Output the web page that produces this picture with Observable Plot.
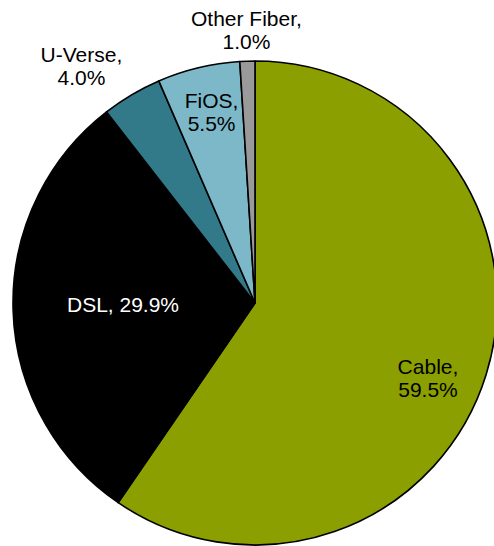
<!DOCTYPE html>
<html><head><meta charset="utf-8">
<script src="https://cdn.jsdelivr.net/npm/d3@7"></script>
<script src="https://cdn.jsdelivr.net/npm/@observablehq/plot@0.6"></script>
<style>body{margin:0;background:#fff;}</style>
</head><body><div id="chart"></div>
<script>
// ---- data ----
const categories = ["Cable", "DSL", "U-Verse", "FiOS", "Other Fiber"];
const shares = [59.5, 29.9, 4.0, 5.5, 1.0];

// ---- styling / layout (not data) ----
const sliceColors = ["#8C9F00", "#000000", "#32798A", "#7DB8C9", "#9A9A9A"];
const labelInk = ["#000000", "#ffffff", "#000000", "#000000", "#000000"];
// radial distance (in radius units), angular nudge (deg), break after comma
const labelLayout = [
  {r: 0.776, shift: 6.1, wrap: true},
  {r: 0.5475, shift: 1.3, wrap: false},
  {r: 1.217, shift: -5.6, wrap: true},
  {r: 0.812, shift: 0.6, wrap: true},
  {r: 1.130, shift: -0.1, wrap: true}
];

const rows = categories.map((c, i) => ({category: c, share: shares[i], i}));
const arcs = d3.pie().sort(null).value(d => d.share)(rows);

const labels = arcs.map(a => {
  const L = labelLayout[a.data.i];
  const th = (a.startAngle + a.endAngle) / 2 + L.shift * Math.PI / 180;
  const txt = a.data.category + "," + (L.wrap ? "\n" : " ") + a.data.share.toFixed(1) + "%";
  return {x: L.r * Math.sin(th), y: L.r * Math.cos(th), text: txt, ink: labelInk[a.data.i]};
});

function slices(index, scales) {
  const cx = scales.x(0), cy = scales.y(0);
  const r = scales.x(1) - scales.x(0);
  const arc = d3.arc().innerRadius(0).outerRadius(r);
  const g = d3.create("svg:g").attr("transform", `translate(${cx},${cy})`);
  g.selectAll("path").data(arcs).join("path")
    .attr("d", arc)
    .attr("fill", d => sliceColors[d.data.i])
    .attr("stroke", "#000")
    .attr("stroke-width", 1.6)
    .attr("stroke-linejoin", "round");
  return g.node();
}

const chart = Plot.plot({
  width: 494,
  height: 546,
  margin: 0,
  x: {domain: [-1, 1], range: [13, 497], axis: null},
  y: {domain: [-1, 1], range: [545, 61], axis: null},
  style: {background: "#fff", overflow: "visible"},
  marks: [
    slices,
    Plot.text(labels, {
      x: "x", y: "y", text: "text", fill: "ink",
      fontSize: 21, lineHeight: 23 / 21, lineAnchor: "middle",
      fontFamily: "Liberation Sans, Arial, sans-serif"
    })
  ]
});
document.getElementById("chart").appendChild(chart);
</script>
</body></html>
